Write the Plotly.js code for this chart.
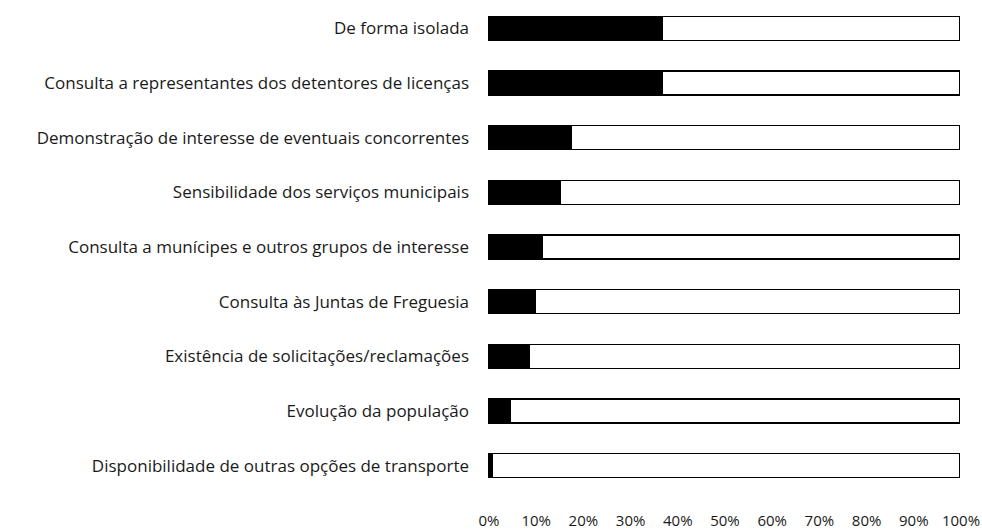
<!DOCTYPE html>
<html>
<head>
<meta charset="utf-8">
<script src="https://cdn.plot.ly/plotly-3.0.1.min.js"></script>
<style>
  html, body { margin: 0; padding: 0; background: #ffffff; }
  #plot { width: 982px; height: 531px; }
</style>
</head>
<body>
<div id="plot"></div>
<script>
// categories, top to bottom as drawn
const categories = [
  'De forma isolada',
  'Consulta a representantes dos detentores de licenças',
  'Demonstração de interesse de eventuais concorrentes',
  'Sensibilidade dos serviços municipais',
  'Consulta a munícipes e outros grupos de interesse',
  'Consulta às Juntas de Freguesia',
  'Existência de solicitações/reclamações',
  'Evolução da população',
  'Disponibilidade de outras opções de transporte'
];

// share (%) shown in black, and the remaining white share
const blackShare = [37, 37, 17.6, 15.3, 11.4, 10, 8.7, 4.7, 1];
const whiteShare = [63, 63, 82.4, 84.7, 88.6, 90, 91.3, 95.3, 99];

const xTicks = [0, 10, 20, 30, 40, 50, 60, 70, 80, 90, 100];

const traces = [
  {
    type: 'bar',
    orientation: 'h',
    x: blackShare,
    y: categories,
    name: 'Sim',
    marker: { color: '#000000', line: { color: '#000000', width: 1.5 } },
    hoverinfo: 'x+y'
  },
  {
    type: 'bar',
    orientation: 'h',
    x: whiteShare,
    y: categories,
    name: 'Não',
    marker: { color: '#ffffff', line: { color: '#000000', width: 1.5 } },
    hoverinfo: 'x+y'
  }
];

const layout = {
  barmode: 'stack',
  bargap: 0.56,
  showlegend: false,
  font: { family: 'Open Sans, Liberation Sans, sans-serif', size: 17, color: '#1a1a1a' },
  margin: { l: 488, r: 22, t: 1, b: 38 },
  paper_bgcolor: '#ffffff',
  plot_bgcolor: '#ffffff',
  xaxis: {
    range: [0, 100],
    tickvals: xTicks,
    ticktext: xTicks.map(v => v + '%'),
    tickfont: { size: 15 },
    showgrid: false,
    zeroline: false,
    showline: false,
    ticks: '',
    ticklabelstandoff: 17,
    ticklabelshift: 1,
    ticklabeloverflow: 'allow',
    fixedrange: true
  },
  yaxis: {
    autorange: 'reversed',
    showgrid: false,
    zeroline: false,
    showline: false,
    ticks: '',
    ticklabelstandoff: 18,
    fixedrange: true
  }
};

Plotly.newPlot('plot', traces, layout, { displayModeBar: false, staticPlot: true });
</script>
</body>
</html>
